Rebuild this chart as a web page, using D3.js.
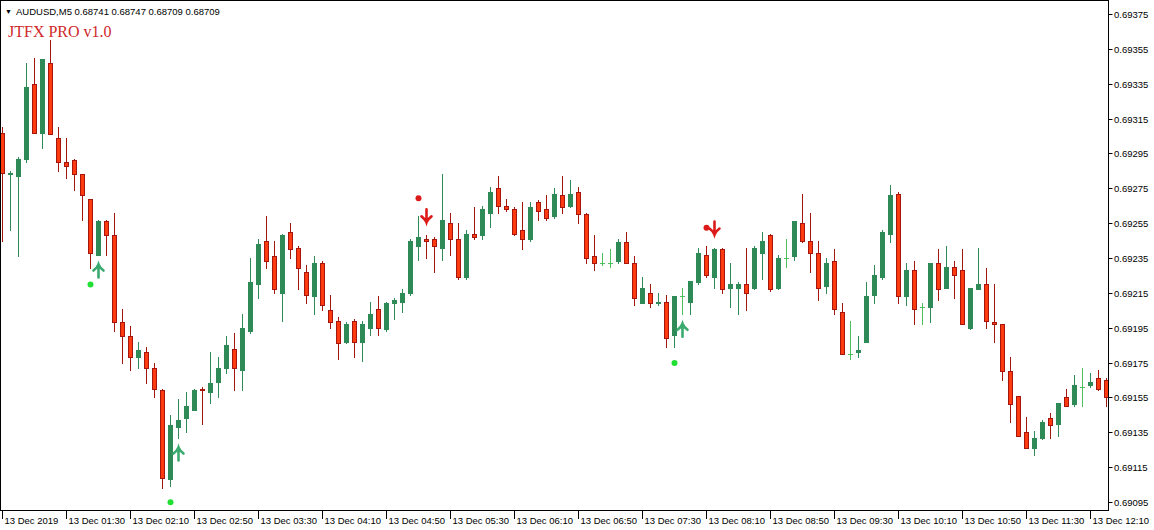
<!DOCTYPE html>
<html><head><meta charset="utf-8">
<script src="https://cdn.jsdelivr.net/npm/d3@7/dist/d3.min.js"></script>
<style>body{margin:0;background:#fff}svg{display:block}</style></head>
<body><svg id="c" width="1154" height="530"></svg>
<script>
// ---- data (AUDUSD M5) ----
const opens=[0.69307,0.69283,0.69282,0.69292,0.69335,0.69307,0.69347,0.69304,0.69290,0.69291,
0.69283,0.69269,0.69237,0.69256,0.69248,0.69198,0.69190,0.69178,0.69181,0.69172,
0.69159,0.69108,0.69138,0.69143,0.69148,0.69160,0.69158,0.69164,0.69172,0.69183,
0.69171,0.69193,0.69220,0.69245,0.69236,0.69215,0.69250,0.69241,0.69227,0.69213,
0.69232,0.69205,0.69199,0.69187,0.69199,0.69187,0.69195,0.69206,0.69194,0.69209,
0.69210,0.69215,0.69242,0.69246,0.69246,0.69241,0.69255,0.69246,0.69224,0.69249,
0.69248,0.69261,0.69275,0.69265,0.69263,0.69251,0.69246,0.69267,0.69263,0.69259,
0.69271,0.69265,0.69273,0.69260,0.69236,0.69232,0.69232,0.69233,0.69244,0.69232,
0.69209,0.69215,0.69209,0.69210,0.69191,0.69213,0.69210,0.69221,0.69237,0.69224,
0.69240,0.69218,0.69218,0.69220,0.69218,0.69238,0.69248,0.69218,0.69235,0.69236,
0.69255,0.69245,0.69238,0.69219,0.69233,0.69204,0.69180,0.69181,0.69187,0.69214,
0.69224,0.69249,0.69272,0.69213,0.69228,0.69207,0.69207,0.69232,0.69218,0.69230,
0.69228,0.69195,0.69217,0.69220,0.69198,0.69197,0.69170,0.69156,0.69135,0.69126,
0.69132,0.69143,0.69140,0.69155,0.69151,0.69161,0.69162,0.69166,0.69165];
const highs=[0.69310,0.69285,0.69293,0.69347,0.69350,0.69349,0.69360,0.69310,0.69304,0.69292,
0.69283,0.69269,0.69257,0.69257,0.69261,0.69206,0.69196,0.69187,0.69184,0.69175,
0.69160,0.69145,0.69154,0.69158,0.69160,0.69161,0.69181,0.69178,0.69190,0.69192,
0.69203,0.69235,0.69246,0.69259,0.69245,0.69249,0.69255,0.69242,0.69231,0.69236,
0.69233,0.69214,0.69201,0.69198,0.69200,0.69199,0.69210,0.69213,0.69210,0.69212,
0.69217,0.69246,0.69259,0.69248,0.69247,0.69283,0.69261,0.69255,0.69251,0.69264,
0.69265,0.69276,0.69282,0.69269,0.69264,0.69267,0.69267,0.69268,0.69271,0.69275,
0.69282,0.69280,0.69276,0.69261,0.69248,0.69238,0.69240,0.69246,0.69250,0.69236,
0.69224,0.69220,0.69215,0.69214,0.69213,0.69218,0.69222,0.69241,0.69242,0.69241,
0.69241,0.69232,0.69221,0.69241,0.69242,0.69250,0.69249,0.69237,0.69246,0.69256,
0.69272,0.69261,0.69245,0.69235,0.69240,0.69209,0.69199,0.69190,0.69221,0.69231,
0.69251,0.69277,0.69273,0.69232,0.69233,0.69209,0.69232,0.69240,0.69242,0.69233,
0.69240,0.69218,0.69241,0.69229,0.69220,0.69197,0.69178,0.69156,0.69144,0.69136,
0.69142,0.69146,0.69152,0.69160,0.69168,0.69172,0.69169,0.69171,0.69166];
const lows=[0.69245,0.69251,0.69236,0.69290,0.69307,0.69298,0.69306,0.69285,0.69281,0.69274,
0.69257,0.69229,0.69237,0.69237,0.69193,0.69175,0.69171,0.69172,0.69163,0.69155,
0.69103,0.69104,0.69132,0.69135,0.69148,0.69140,0.69152,0.69155,0.69169,0.69159,
0.69159,0.69192,0.69212,0.69229,0.69215,0.69199,0.69235,0.69217,0.69209,0.69203,
0.69205,0.69195,0.69177,0.69186,0.69178,0.69176,0.69191,0.69191,0.69193,0.69200,
0.69204,0.69214,0.69234,0.69235,0.69227,0.69234,0.69237,0.69223,0.69223,0.69246,
0.69246,0.69253,0.69261,0.69262,0.69248,0.69240,0.69245,0.69257,0.69257,0.69258,
0.69261,0.69264,0.69255,0.69232,0.69228,0.69231,0.69230,0.69232,0.69232,0.69208,
0.69209,0.69207,0.69208,0.69184,0.69184,0.69203,0.69203,0.69220,0.69224,0.69218,
0.69215,0.69207,0.69203,0.69205,0.69217,0.69223,0.69216,0.69217,0.69230,0.69234,
0.69244,0.69227,0.69211,0.69215,0.69203,0.69180,0.69177,0.69178,0.69187,0.69209,
0.69223,0.69244,0.69209,0.69208,0.69197,0.69197,0.69198,0.69211,0.69218,0.69212,
0.69197,0.69194,0.69217,0.69195,0.69187,0.69165,0.69141,0.69133,0.69126,0.69122,
0.69131,0.69132,0.69133,0.69150,0.69150,0.69150,0.69161,0.69159,0.69150];
const closes=[0.69284,0.69284,0.69292,0.69333,0.69307,0.69349,0.69306,0.69290,0.69288,0.69283,
0.69271,0.69238,0.69256,0.69248,0.69198,0.69190,0.69178,0.69182,0.69172,0.69160,
0.69109,0.69139,0.69142,0.69150,0.69159,0.69159,0.69163,0.69172,0.69185,0.69172,
0.69195,0.69221,0.69243,0.69233,0.69217,0.69248,0.69240,0.69229,0.69214,0.69232,
0.69208,0.69198,0.69186,0.69197,0.69187,0.69197,0.69203,0.69195,0.69209,0.69211,
0.69215,0.69245,0.69247,0.69245,0.69242,0.69257,0.69246,0.69224,0.69249,0.69247,
0.69263,0.69273,0.69265,0.69263,0.69249,0.69246,0.69264,0.69262,0.69258,0.69272,
0.69264,0.69272,0.69260,0.69235,0.69232,0.69232,0.69232,0.69244,0.69232,0.69212,
0.69218,0.69209,0.69210,0.69189,0.69213,0.69213,0.69222,0.69238,0.69225,0.69240,
0.69217,0.69220,0.69220,0.69215,0.69241,0.69245,0.69217,0.69235,0.69235,0.69256,
0.69245,0.69238,0.69218,0.69232,0.69206,0.69180,0.69180,0.69182,0.69213,0.69225,
0.69250,0.69271,0.69213,0.69228,0.69206,0.69207,0.69232,0.69217,0.69230,0.69225,
0.69197,0.69218,0.69220,0.69199,0.69197,0.69170,0.69151,0.69133,0.69126,0.69132,
0.69141,0.69139,0.69152,0.69150,0.69162,0.69161,0.69164,0.69160,0.69155];
const priceTicks=[0.69375,0.69355,0.69335,0.69315,0.69295,0.69275,0.69255,0.69235,0.69215,0.69195,0.69175,0.69155,0.69135,0.69115,0.69095];
const timeLabels=["13 Dec 2019","13 Dec 01:30","13 Dec 02:10","13 Dec 02:50","13 Dec 03:30","13 Dec 04:10","13 Dec 04:50","13 Dec 05:30","13 Dec 06:10","13 Dec 06:50","13 Dec 07:30","13 Dec 08:10","13 Dec 08:50","13 Dec 09:30","13 Dec 10:10","13 Dec 10:50","13 Dec 11:30","13 Dec 12:10"];
const timeLabelIdx=[0,8,16,24,32,40,48,56,64,72,80,88,96,104,112,120,128,136];
const buyDotIdx=[11,21,84];
const buyArrowIdx=[12,22,85];
const sellDotIdx=[52,88];
const sellArrowIdx=[53,89];
const headerText="AUDUSD,M5  0.68741 0.68747 0.68709 0.68709";
const titleText="JTFX PRO v1.0";

// ---- drawing ----
const svg=d3.select("#c");
const plotR=1108, plotB=510;
const x=d3.scaleLinear().domain([0,138]).range([2,1106]);
const y=d3.scaleLinear().domain([0.69095,0.69375]).range([502,14]);
const GREEN="#2e8b57", RED="#ff3a10", REDL="#a5170c", DOJI="#4cbf5c";

svg.append("rect").attr("width",1154).attr("height",530).attr("fill","#fff");
svg.append("clipPath").attr("id","pc").append("rect").attr("x",1).attr("y",0).attr("width",plotR-1).attr("height",plotB);

const g=svg.append("g").attr("clip-path","url(#pc)");
const data=opens.map((o,i)=>({i,o,h:highs[i],l:lows[i],c:closes[i]}));
const cx=d=>Math.round(x(d.i));
data.forEach(d=>{
  const X=cx(d), up=d.c>d.o, dn=d.c<d.o;
  const col=up?GREEN:(dn?REDL:DOJI);
  g.append("line").attr("x1",X+0.5).attr("x2",X+0.5)
   .attr("y1",Math.round(y(d.h))).attr("y2",Math.round(y(d.l))+1)
   .attr("stroke",col).attr("stroke-width",1);
  const t=Math.round(y(Math.max(d.o,d.c))), b=Math.round(y(Math.min(d.o,d.c)));
  if(!up&&!dn){
    g.append("line").attr("x1",X-2).attr("x2",X+3).attr("y1",t+0.5).attr("y2",t+0.5)
     .attr("stroke",DOJI).attr("stroke-width",1);
  } else {
    g.append("rect").attr("x",X-1.5).attr("y",t+0.5).attr("width",4).attr("height",Math.max(b-t,1))
     .attr("fill",up?GREEN:RED).attr("stroke",up?GREEN:REDL).attr("stroke-width",1);
  }
});

// signals
buyDotIdx.forEach(i=>{
  g.append("circle").attr("cx",x(i)+0.5).attr("cy",y(lows[i])+16).attr("r",3).attr("fill","#22e033");
});
buyArrowIdx.forEach(i=>{
  const X=x(i)+0.5, T=y(lows[i])+10;
  g.append("path").attr("d",`M${X},${T+13}L${X},${T+1}M${X-5},${T+6}Q${X-1},${T+3} ${X},${T}Q${X+1},${T+3} ${X+5},${T+6}`)
   .attr("fill","none").attr("stroke","#3aaa6e").attr("stroke-width",2.6).attr("stroke-linecap","round");
});
sellDotIdx.forEach(i=>{
  g.append("circle").attr("cx",x(i)+0.5).attr("cy",y(highs[i])-18).attr("r",3).attr("fill","#dd1a1a");
});
sellArrowIdx.forEach(i=>{
  const X=x(i)+0.5, B=y(highs[i])-13;
  g.append("path").attr("d",`M${X},${B-13}L${X},${B-1}M${X-5},${B-6}Q${X-1},${B-3} ${X},${B}Q${X+1},${B-3} ${X+5},${B-6}`)
   .attr("fill","none").attr("stroke","#dd1a1a").attr("stroke-width",2.6).attr("stroke-linecap","round");
});

// frame
svg.append("rect").attr("x",0.5).attr("y",0.5).attr("width",plotR).attr("height",plotB)
  .attr("fill","none").attr("stroke","#000").attr("stroke-width",1);

// price axis
const FONT="'Liberation Sans',Arial,sans-serif";
priceTicks.forEach(p=>{
  const Y=Math.round(y(p))+0.5;
  svg.append("line").attr("x1",plotR+0.5).attr("x2",plotR+4.5).attr("y1",Y).attr("y2",Y).attr("stroke","#000");
  svg.append("text").attr("x",plotR+6).attr("y",Y+3.5).attr("font-family",FONT).attr("font-size",9.5).attr("fill","#000").text(p.toFixed(5));
});
// time axis
timeLabelIdx.forEach((idx,k)=>{
  const X=Math.round(x(idx))+0.5;
  if(k===timeLabels.length-1){
    svg.append("rect").attr("x",X-1).attr("y",plotB+2).attr("width",60).attr("height",18).attr("fill","#fff");
  }
  svg.append("line").attr("x1",X).attr("x2",X).attr("y1",plotB+1).attr("y2",plotB+9).attr("stroke","#000");
  svg.append("text").attr("x",X+2).attr("y",plotB+14).attr("font-family",FONT).attr("font-size",9.5).attr("fill","#000").text(timeLabels[k]);
});

// header
svg.append("text").attr("x",5).attr("y",14).attr("font-family",FONT).attr("font-size",7).attr("fill","#000").text("▼");
svg.append("text").attr("x",16).attr("y",15).attr("font-family",FONT).attr("font-size",9.5).attr("fill","#000").text(headerText);
svg.append("text").attr("x",8).attr("y",37).attr("font-family","'Liberation Serif','Times New Roman',serif").attr("font-size",16).attr("fill","#d0282a").text(titleText);
</script></body></html>
